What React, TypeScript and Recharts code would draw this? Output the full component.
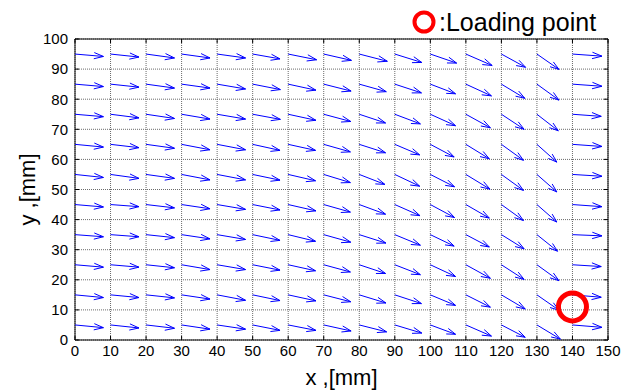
import { CartesianGrid, Legend, Scatter, ScatterChart, XAxis, YAxis } from 'recharts';

const FONT = '"Liberation Sans", Arial, sans-serif';

const X_TICKS = [0, 10, 20, 30, 40, 50, 60, 70, 80, 90, 100, 110, 120, 130, 140, 150];
const Y_TICKS = [0, 10, 20, 30, 40, 50, 60, 70, 80, 90, 100];

// arrow origins
const X_POS = [0, 10, 20, 30, 40, 50, 60, 70, 80, 90, 100, 110, 120, 130, 140];
const Y_POS = [95, 85, 75, 65, 55, 45, 35, 25, 15, 5];

// arrow components in mm, one row per Y_POS entry
const U_ROWS = [
  [8.0, 8.0, 8.0, 8.0, 8.0, 7.7, 8.0, 7.8, 7.9, 7.6, 7.4, 7.4, 6.8, 6.2, 8.3],
  [8.0, 8.0, 8.0, 8.0, 8.0, 7.8, 7.8, 7.7, 7.6, 7.5, 7.1, 7.2, 6.6, 6.2, 8.3],
  [8.0, 8.0, 8.0, 8.0, 8.0, 7.8, 7.8, 7.6, 7.4, 7.2, 7.1, 6.9, 6.4, 6.0, 8.1],
  [8.0, 8.0, 8.0, 8.0, 8.0, 7.7, 7.7, 7.5, 7.4, 7.0, 6.7, 6.6, 6.2, 5.6, 8.3],
  [8.0, 8.0, 8.0, 8.0, 8.0, 7.7, 7.7, 7.5, 7.2, 7.0, 6.8, 6.8, 6.2, 5.6, 8.3],
  [8.0, 8.0, 8.0, 8.0, 8.0, 7.7, 7.8, 7.5, 7.4, 7.1, 6.8, 6.6, 6.2, 5.6, 8.3],
  [8.0, 8.0, 8.0, 8.0, 8.0, 7.7, 7.7, 7.6, 7.5, 7.2, 6.7, 6.6, 6.4, 5.8, 8.3],
  [8.0, 8.0, 8.0, 8.0, 8.0, 7.7, 7.7, 7.5, 7.4, 7.2, 7.1, 6.9, 6.4, 6.2, 8.1],
  [8.0, 8.0, 8.0, 8.0, 8.0, 7.7, 7.8, 7.6, 7.5, 7.5, 7.1, 6.9, 6.7, 6.2, 8.1],
  [8.0, 8.0, 8.0, 8.0, 8.0, 7.7, 7.8, 7.7, 7.7, 7.6, 7.1, 7.2, 6.7, 6.6, 8.3],
];
const V_ROWS = [
  [-0.8, -1.0, -1.3, -1.3, -1.3, -1.6, -1.9, -2.1, -2.4, -2.8, -3.0, -3.8, -4.4, -5.1, -0.7],
  [-0.8, -1.0, -1.3, -1.3, -1.6, -1.8, -2.0, -2.3, -2.5, -2.9, -3.2, -3.9, -4.7, -5.3, -0.7],
  [-0.8, -1.2, -1.4, -1.6, -1.6, -1.7, -2.0, -2.4, -2.9, -3.2, -3.8, -4.5, -5.0, -5.5, -0.7],
  [-0.9, -1.1, -1.3, -1.8, -1.8, -2.0, -2.0, -2.5, -2.8, -3.5, -4.2, -4.8, -5.3, -5.9, -0.7],
  [-1.0, -1.3, -1.3, -1.8, -1.8, -1.9, -2.1, -2.7, -3.3, -3.9, -4.1, -4.9, -5.3, -5.8, -0.6],
  [-0.8, -0.7, -1.1, -1.4, -1.6, -1.8, -2.1, -2.5, -3.2, -3.7, -4.3, -4.5, -5.3, -5.8, -0.7],
  [-0.7, -0.7, -1.0, -1.4, -1.6, -1.9, -2.2, -2.5, -2.8, -3.5, -3.8, -4.1, -4.7, -5.5, -0.4],
  [-0.8, -0.8, -1.0, -1.6, -1.6, -1.8, -2.0, -2.4, -2.9, -3.3, -3.9, -4.5, -4.9, -5.3, -0.6],
  [-0.9, -0.9, -1.0, -1.4, -1.8, -1.9, -2.0, -2.3, -2.7, -2.9, -3.5, -4.1, -4.7, -5.1, -0.8],
  [-0.9, -1.0, -1.1, -1.4, -1.4, -1.8, -1.8, -2.0, -2.3, -2.7, -3.1, -3.7, -4.1, -4.7, -0.8],
];

const LOADING_POINT = [{ x: 140, y: 11 }];

const ARROWS = Y_POS.flatMap((y, r) =>
  X_POS.map((x, c) => ({
    id: `a-${r}-${c}`,
    pts: [
      { x, y },
      { x: x + U_ROWS[r][c], y: y + V_ROWS[r][c] },
    ],
  })),
);

// matlab-style quiver arrow: shaft + open head, drawn from the two scaled points
function QuiverArrow(props: any) {
  const points = props.points;
  if (!points || points.length < 2) return null;
  const [a, b] = points;
  const dx = b.x - a.x;
  const dy = b.y - a.y;
  const alpha = 0.33;
  const beta = 0.33;
  const h1x = b.x - alpha * (dx + beta * dy);
  const h1y = b.y - alpha * (dy - beta * dx);
  const h2x = b.x - alpha * (dx - beta * dy);
  const h2y = b.y - alpha * (dy + beta * dx);
  return (
    <path
      d={`M${a.x},${a.y}L${b.x},${b.y}M${h1x},${h1y}L${b.x},${b.y}L${h2x},${h2y}`}
      stroke="#0000ff"
      strokeWidth={1}
      fill="none"
    />
  );
}

const NoShape = () => <g />;
const NoTick = () => <g />;

function XLabel(props: any) {
  const vb = props.viewBox;
  return (
    <text x={vb.x + vb.width / 2} y={vb.y + 37} textAnchor="middle" dominantBaseline="central" fontSize={22} fontFamily={FONT} fill="#000">
      x ,[mm]
    </text>
  );
}

function YLabel(props: any) {
  const vb = props.viewBox;
  const cx = 27;
  const cy = vb.y + vb.height / 2;
  return (
    <text x={cx} y={cy} transform={`rotate(-90 ${cx} ${cy})`} textAnchor="middle" dominantBaseline="central" fontSize={22} fontFamily={FONT} fill="#000">
      y ,[mm]
    </text>
  );
}

function LoadingLegend() {
  return (
    <div style={{ display: 'flex', alignItems: 'center', fontFamily: FONT, fontSize: 25, lineHeight: '30px', color: '#000', whiteSpace: 'nowrap' }}>
      <svg width={26} height={26}>
        <circle cx={13} cy={13} r={9.5} fill="none" stroke="#ff0000" strokeWidth={4} />
      </svg>
      <span style={{ marginLeft: 2 }}>:Loading point</span>
    </div>
  );
}

const tickStyle = { fontSize: 15, fill: '#000', fontFamily: FONT };
const THIN = 0.01;

export default function App() {
  return (
    <div style={{ position: 'absolute', left: 0, top: 0, background: '#fff' }}>
      <ScatterChart width={640} height={390} margin={{ top: 39, right: 32, bottom: 0, left: 0 }}>
        <CartesianGrid xAxisId="x" yAxisId="y" stroke="#6a6a6a" strokeDasharray="1 1" />
        {/* mirrored axes first: inner ticks and the top/right box lines */}
        <XAxis xAxisId="xin" type="number" dataKey="x" domain={[0, 150]} allowDataOverflow ticks={X_TICKS} interval={0} height={THIN} mirror tickSize={4} tickLine={{ stroke: '#000' }} axisLine={false} tick={NoTick} />
        <XAxis xAxisId="xtop" orientation="top" type="number" dataKey="x" domain={[0, 150]} allowDataOverflow ticks={X_TICKS} interval={0} height={THIN} mirror tickSize={4} tickLine={{ stroke: '#000' }} axisLine={{ stroke: '#000' }} tick={NoTick} />
        <YAxis yAxisId="yin" type="number" dataKey="y" domain={[0, 100]} allowDataOverflow ticks={Y_TICKS} interval={0} width={THIN} mirror tickSize={4} tickLine={{ stroke: '#000' }} axisLine={false} tick={NoTick} />
        <YAxis yAxisId="yright" orientation="right" type="number" dataKey="y" domain={[0, 100]} allowDataOverflow ticks={Y_TICKS} interval={0} width={THIN} mirror tickSize={4} tickLine={{ stroke: '#000' }} axisLine={{ stroke: '#000' }} tick={NoTick} />
        <XAxis
          xAxisId="x"
          type="number"
          dataKey="x"
          domain={[0, 150]}
          allowDataOverflow
          ticks={X_TICKS}
          interval={0}
          height={50}
          tickSize={0}
          tickMargin={5}
          tickLine={false}
          axisLine={{ stroke: '#000', strokeWidth: 1 }}
          tick={tickStyle}
          label={XLabel}
        />
        <YAxis
          yAxisId="y"
          type="number"
          dataKey="y"
          domain={[0, 100]}
          allowDataOverflow
          ticks={Y_TICKS}
          interval={0}
          width={75}
          tickSize={0}
          tickMargin={7}
          tickLine={false}
          axisLine={{ stroke: '#000', strokeWidth: 1 }}
          tick={tickStyle}
          label={YLabel}
        />
        <Legend
          layout="horizontal"
          verticalAlign="middle"
          align="center"
          wrapperStyle={{ top: 7, left: 411, width: 'auto' }}
          content={LoadingLegend}
        />
        {ARROWS.map((a) => (
          <Scatter
            key={a.id}
            xAxisId="x"
            yAxisId="y"
            data={a.pts}
            line={QuiverArrow}
            shape={NoShape}
            fill="#0000ff"
            legendType="none"
            isAnimationActive={false}
          />
        ))}
        {/* hidden series so the inner-tick / box axes get drawn */}
        <Scatter xAxisId="xin" yAxisId="yin" data={LOADING_POINT} shape={NoShape} legendType="none" isAnimationActive={false} />
        <Scatter xAxisId="xtop" yAxisId="yright" data={LOADING_POINT} shape={NoShape} legendType="none" isAnimationActive={false} />
        <Scatter
          xAxisId="x"
          yAxisId="y"
          name="Loading point"
          data={LOADING_POINT}
          fill="#ff0000"
          shape={(p: any) => <circle cx={p.cx} cy={p.cy} r={14} fill="none" stroke="#ff0000" strokeWidth={5} />}
          isAnimationActive={false}
        />
      </ScatterChart>
    </div>
  );
}
